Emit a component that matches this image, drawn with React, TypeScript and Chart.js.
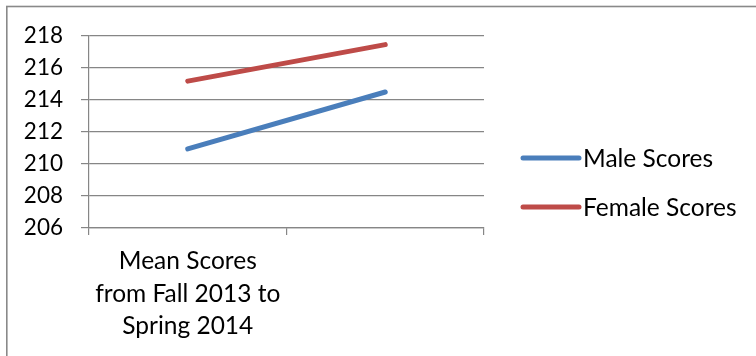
import React, { useEffect, useRef } from "react";
import { Chart, registerables } from "chart.js";

Chart.register(...registerables);

// Category labels (second category has no caption)
const categories: (string | string[])[] = [
  ["Mean Scores", "from Fall 2013 to", "Spring 2014"],
  "",
];

const maleScores = [210.94, 214.5];
const femaleScores = [215.18, 217.46];

const seriesNames = ["Male Scores", "Female Scores"];
const seriesColors = ["#4A7EBB", "#BE4B48"];

const yMin = 206;
const yMax = 218;
const yStep = 2;

const FONT = "Lato, 'Open Sans', sans-serif";
const AXIS_GRAY = "#868686";

// Outer frame of the chart object
const framePlugin = {
  id: "frame",
  beforeDraw(chart: Chart) {
    const { ctx } = chart;
    ctx.save();
    ctx.fillStyle = "#ffffff";
    ctx.fillRect(0, 0, chart.width, chart.height);
    ctx.strokeStyle = "#898989";
    ctx.lineWidth = 1.6;
    ctx.strokeRect(6.8, 6.5, chart.width + 10, chart.height + 10);
    ctx.restore();
  },
};

// Legend on the right: short thick line sample followed by the series name
const sideLegendPlugin = {
  id: "sideLegend",
  afterDraw(chart: Chart) {
    const { ctx } = chart;
    const x0 = 523;
    const x1 = 579;
    const rows = [158, 207];
    ctx.save();
    chart.data.datasets.forEach((ds: any, i: number) => {
      const y = rows[i];
      ctx.strokeStyle = ds.borderColor;
      ctx.lineWidth = 5;
      ctx.lineCap = "round";
      ctx.beginPath();
      ctx.moveTo(x0, y);
      ctx.lineTo(x1, y);
      ctx.stroke();
      ctx.fillStyle = "#000000";
      ctx.font = `24.5px ${FONT}`;
      ctx.textBaseline = "middle";
      ctx.textAlign = "left";
      ctx.fillText(ds.label, x1 + 4, y + 1);
    });
    ctx.restore();
  },
};

export default function App() {
  const canvasRef = useRef<HTMLCanvasElement | null>(null);

  useEffect(() => {
    if (!canvasRef.current) return;
    const chart = new Chart(canvasRef.current, {
      type: "line",
      data: {
        labels: categories,
        datasets: [
          {
            label: seriesNames[0],
            data: maleScores,
            borderColor: seriesColors[0],
            backgroundColor: seriesColors[0],
            borderWidth: 5,
            borderCapStyle: "round",
            pointRadius: 0,
            tension: 0,
          },
          {
            label: seriesNames[1],
            data: femaleScores,
            borderColor: seriesColors[1],
            backgroundColor: seriesColors[1],
            borderWidth: 5,
            borderCapStyle: "round",
            pointRadius: 0,
            tension: 0,
          },
        ],
      },
      options: {
        animation: false,
        responsive: false,
        maintainAspectRatio: false,
        layout: { padding: { top: 36, right: 272, left: 0, bottom: 0 } },
        plugins: {
          legend: { display: false },
          tooltip: { enabled: false },
        },
        scales: {
          x: {
            type: "category",
            offset: true,
            grid: {
              offset: true,
              drawOnChartArea: false,
              drawTicks: true,
              tickLength: 7,
              color: AXIS_GRAY,
              lineWidth: 1.2,
            },
            border: { color: AXIS_GRAY, width: 1.2 },
            ticks: {
              color: "#000000",
              font: { family: FONT, size: 24.5, lineHeight: 1.33 },
              padding: 10,
              maxRotation: 0,
              autoSkip: false,
            },
            afterFit(scale: any) {
              scale.height = 356 - 228;
            },
          },
          y: {
            min: yMin,
            max: yMax,
            ticks: {
              stepSize: yStep,
              color: "#000000",
              font: { family: FONT, size: 22.5 },
              padding: 18,
            },
            grid: {
              color: AXIS_GRAY,
              lineWidth: 1.2,
              tickLength: 8,
            },
            border: { color: AXIS_GRAY, width: 1.2 },
            afterFit(scale: any) {
              scale.width = 89;
            },
          },
        },
      },
      plugins: [framePlugin, sideLegendPlugin],
    });
    return () => chart.destroy();
  }, []);

  return (
    <div style={{ position: "absolute", left: 0, top: 0, width: 756, height: 356 }}>
      <canvas ref={canvasRef} width={756} height={356} style={{ display: "block" }} />
    </div>
  );
}
